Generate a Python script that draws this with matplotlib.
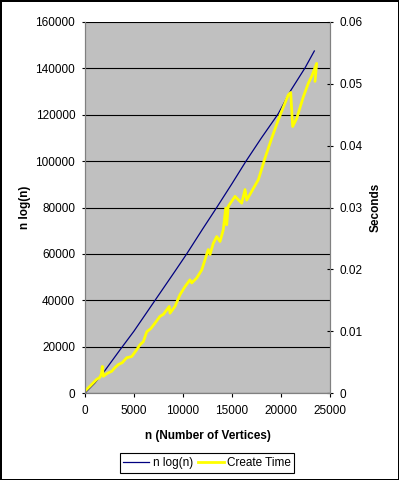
import matplotlib
matplotlib.use("Agg")
import matplotlib.pyplot as plt
from matplotlib.lines import Line2D

plt.rcParams['font.family'] = ['Liberation Sans', 'DejaVu Sans']

# n log(n) curve
nlogn_n = [0, 1000, 2000, 3570, 5000, 7040, 9180, 10380, 12000, 13440,
           15000, 16430, 18000, 19730, 21000, 22450, 23400]
nlogn_val = [0, 4300, 9500, 18600, 26700, 39300, 52500, 60000, 70700, 80000,
             90300, 100000, 110000, 120500, 130500, 140200, 147500]

# Create Time curve (seconds)
create_n = [0, 510, 1190, 1500, 1680, 1770, 1870, 2300, 2720, 3050, 3400, 3800,
            4250, 4770, 5270, 5610, 5950, 6300, 6700, 7140, 7650, 7990, 8600,
            8670, 9180, 9690, 10200, 10710, 10890, 11400, 11910, 12580, 12760,
            13090, 13440, 13780, 14110, 14360, 14460, 14620, 15310, 15990,
            16330, 16500, 17690, 18370, 19050, 19730, 20230, 20740, 20990,
            21090, 21190, 21600, 22280, 22790, 23130, 23640, 23470]
create_sec = [0.0003, 0.0011, 0.0022, 0.0025, 0.0031, 0.0043, 0.0027, 0.0032,
              0.0035, 0.0041, 0.0046, 0.0049, 0.0057, 0.0059, 0.0070, 0.0078,
              0.0083, 0.0099, 0.0104, 0.0113, 0.0124, 0.0127, 0.0140, 0.0129,
              0.0140, 0.0159, 0.0172, 0.0183, 0.0178, 0.0186, 0.0199, 0.0232,
              0.0224, 0.0242, 0.0253, 0.0245, 0.0264, 0.0299, 0.0272, 0.0302,
              0.0318, 0.0307, 0.0329, 0.0312, 0.0345, 0.0380, 0.0412, 0.0442,
              0.0462, 0.0482, 0.0486, 0.0458, 0.0431, 0.0444, 0.0479, 0.0501,
              0.0512, 0.0533, 0.0504]

x_ticks = [0, 5000, 10000, 15000, 20000, 25000]
left_ticks = [0, 20000, 40000, 60000, 80000, 100000, 120000, 140000, 160000]
right_ticks = [0, 0.01, 0.02, 0.03, 0.04, 0.05, 0.06]
right_labels = ['0', '0.01', '0.02', '0.03', '0.04', '0.05', '0.06']

W, H = 399, 480
fig = plt.figure(figsize=(W / 100, H / 100), dpi=100)
fig.patch.set_facecolor('white')
fig.patch.set_edgecolor('black')
fig.patch.set_linewidth(2)

ax = fig.add_axes([85 / W, 1 - 393 / H, 245 / W, 371 / H])
ax.set_facecolor('#C0C0C0')
ax2 = ax.twinx()

ax.plot(nlogn_n, nlogn_val, color='#000080', linewidth=0.9, label='n log(n)')
ax2.plot(create_n, create_sec, color='#FFFF00', linewidth=2.0,
         solid_joinstyle='round', solid_capstyle='round', label='Create Time')

ax.set_xlim(0, 25000)
ax.set_ylim(0, 160000)
ax2.set_ylim(0, 0.06)

ax.set_xticks(x_ticks)
ax.set_xticklabels([str(v) for v in x_ticks])
ax.set_yticks(left_ticks)
ax.set_yticklabels([str(v) for v in left_ticks])
ax2.set_yticks(right_ticks)
ax2.set_yticklabels(right_labels)

ax.yaxis.grid(True, color='black', linewidth=0.8)
ax.set_axisbelow(True)

for a in (ax, ax2):
    for s in a.spines.values():
        s.set_color('#808080')
        s.set_linewidth(0.8)
ax2.spines['top'].set_visible(False)
ax.spines['top'].set_visible(False)

ax.tick_params(axis='y', direction='out', length=2.5, width=0.8,
               color='black', labelsize=8.5, pad=4.5, labelcolor='black')
ax.tick_params(axis='x', direction='out', length=3, width=0.8,
               color='black', labelsize=8.5, pad=6, labelcolor='black')
ax2.tick_params(axis='y', direction='inout', length=4.5, width=0.8,
                color='black', labelsize=8.5, pad=4.5, labelcolor='black')

ax.set_xlabel('n (Number of Vertices)', fontsize=8.5, fontweight='bold', labelpad=9)
ax.set_ylabel('n log(n)', fontsize=8.5, fontweight='bold', labelpad=3)
ax2.set_ylabel('Seconds', fontsize=8.5, fontweight='bold', labelpad=5)

handles = [Line2D([0], [0], color='#000080', linewidth=0.9),
           Line2D([0], [0], color='#FFFF00', linewidth=2.0)]
leg = fig.legend(handles, ['n log(n)', 'Create Time'], ncol=2,
                 loc='center', bbox_to_anchor=(207 / W, 1 - 463 / H),
                 fontsize=8.5, frameon=True, fancybox=False, framealpha=1,
                 edgecolor='black', borderpad=0.3, handlelength=2.2,
                 handletextpad=0.3, columnspacing=0.4)
leg.get_frame().set_linewidth(0.8)

fig.savefig('out.png', dpi=100, facecolor=fig.get_facecolor(),
            edgecolor=fig.get_edgecolor())
